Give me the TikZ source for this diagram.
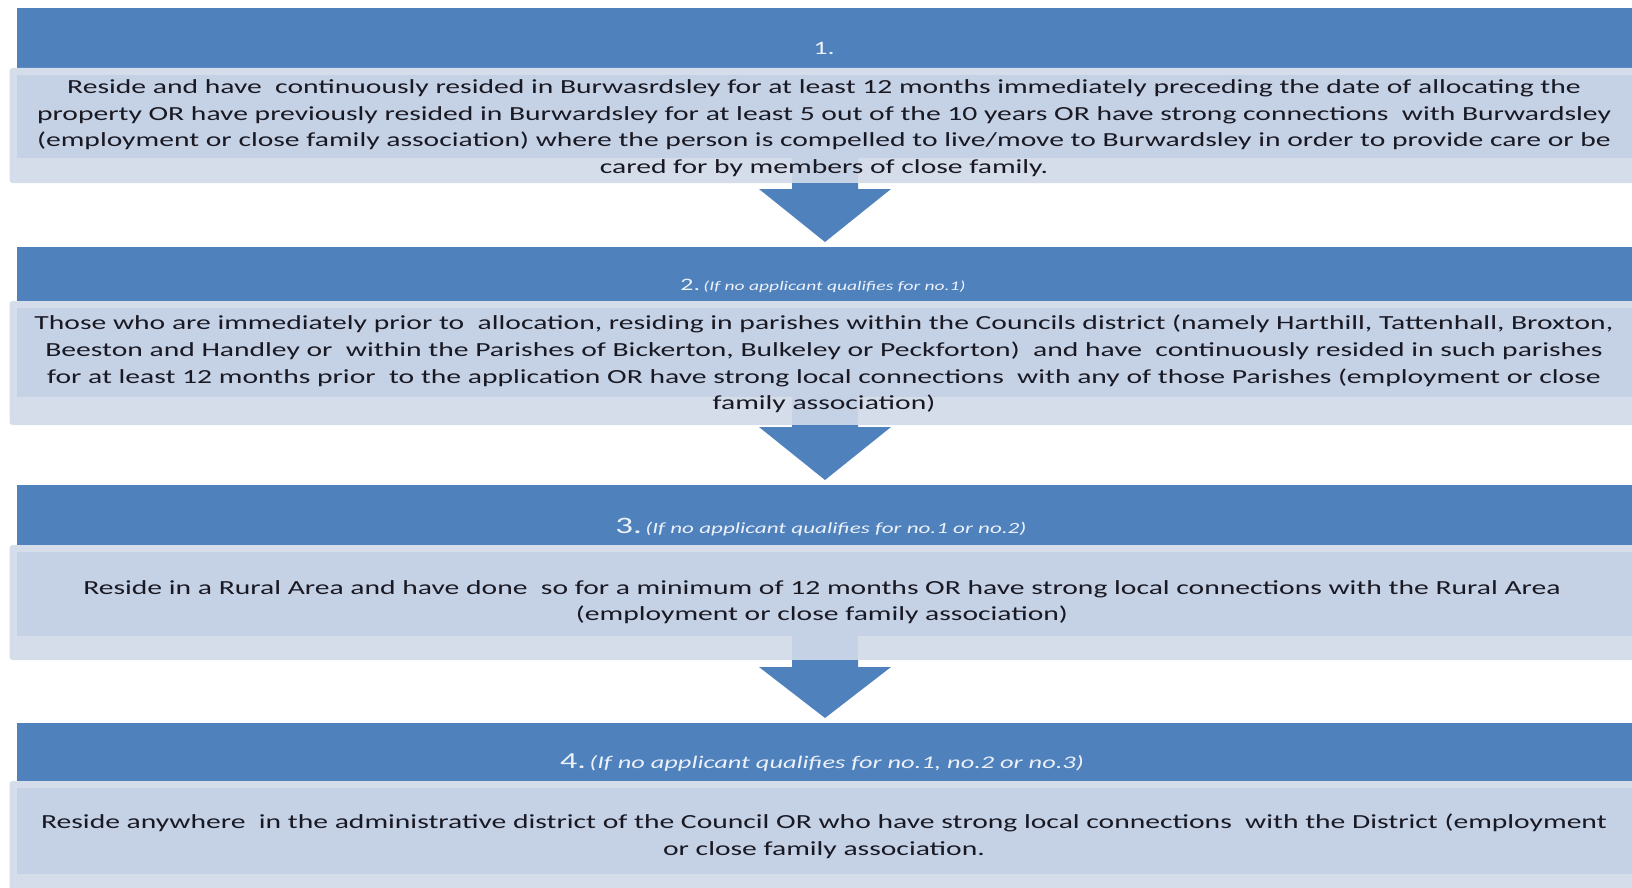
\documentclass[tikz,border=0pt]{standalone}
\usepackage{fontspec}
\setmainfont{Carlito}[FakeStretch=1.48]
\usetikzlibrary{fit,calc}
\definecolor{hdrblue}{RGB}{79,129,189}
\definecolor{boxtop}{RGB}{197,209,229}
\definecolor{boxband}{RGB}{213,220,234}
\definecolor{bodyink}{RGB}{25,25,35}
\definecolor{hdrink}{RGB}{236,241,248}
\tikzset{
  hdrbox/.style={fill=hdrblue, inner sep=0, outer sep=0},
  bodybox/.style={fill=boxband, rounded corners=1.5pt, inner sep=0, outer sep=0},
  topbox/.style={fill=boxtop, inner sep=0, outer sep=0},
  bodytext/.style={text=bodyink, align=center, inner sep=0, font=\fontsize{10}{13.3}\selectfont},
  hdrtext/.style={text=hdrink, inner sep=0, anchor=base},
}
\newcommand{\hdrnum}[2]{{\fontsize{#1}{#1}\selectfont #2}}
\newcommand{\hdrnote}[2]{{\fontsize{#1}{#1}\selectfont\itshape #2}}
% blue arrow from the box above (#1) to the header below (#2), #3 = gap under box
\newcommand{\flowarrow}[3]{%
  \path ($(axis |- #1.south)+(0,#3)$) coordinate (hd);
  \fill[boxtop] ($(axis |- top#1.south)+(-33,0)$) rectangle ($(axis |- #1.south)+(33,0)$);
  \fill[hdrblue] ($(axis |- #1.south)+(-33,0)$) -- ($(hd)+(-33,0)$) -- ($(hd)+(-66,0)$)
    -- ($(axis |- #2.north)+(0,-5)$) -- ($(hd)+(66,0)$) -- ($(hd)+(33,0)$)
    -- ($(axis |- #1.south)+(33,0)$) -- cycle;
}
\begin{document}
\begin{tikzpicture}[x=0.5pt, y=-0.5pt]
  \useasboundingbox (0,0) rectangle (1632,888);
  \coordinate (axis) at (825,0);
  \foreach \i/\hy/\ty/\sy/\by in {1/8/68/158/183, 2/247/301/397/425, 3/485/545/636/660, 4/723/781/874/905} {
    \node[hdrbox, fit={(17,\hy) (1640,\ty)}] (hdr\i) {};
    \node[bodybox, fit={(9.5,\ty) (1645,\by)}] (body\i) {};
    \node[topbox, fit={(17,\ty+7) (1645,\sy)}] (topbody\i) {};
  }
  \flowarrow{body1}{hdr2}{6}
  \flowarrow{body2}{hdr3}{2}
  \flowarrow{body3}{hdr4}{7}

  \node[hdrtext] (lab1) at (824,55) {\hdrnum{9.5}{1.}};
  \node[hdrtext] (lab2) at (823,290) {\hdrnum{8.75}{2.}\,\hdrnote{6.6}{(If no applicant qualifies for no.1)}};
  \node[hdrtext] (lab3) at (821,533) {\hdrnum{11.8}{3.}\,\hdrnote{7.8}{(If no applicant qualifies for no.1 or no.2)}};
  \node[hdrtext] (lab4) at (822,768) {\hdrnum{11.5}{4.}\,\hdrnote{8.9}{(If no applicant qualifies for no.1, no.2 or no.3)}};

  \node[bodytext] (txt1) at (824,128) {Reside and have\ \ continuously resided in Burwasrdsley for at least 12 months immediately preceding the date of allocating the\\
    property OR have previously resided in Burwardsley for at least 5 out of the 10 years OR have strong connections\ \ with Burwardsley\\
    (employment or close family association) where the person is compelled to live/move to Burwardsley in order to provide care or be\\
    cared for by members of close family.};
  \node[bodytext] (txt2) at (824,364) {Those who are immediately prior to\ \ allocation, residing in parishes within the Councils district (namely Harthill, Tattenhall, Broxton,\\
    Beeston and Handley or\ \ within the Parishes of Bickerton, Bulkeley or Peckforton)\ \ and have\ \ continuously resided in such parishes\\
    for at least 12 months prior\ \ to the application OR have strong local connections\ \ with any of those Parishes (employment or close\\
    family association)};
  \node[bodytext] (txt3) at (822,602) {Reside in a Rural Area and have done\ \ so for a minimum of 12 months OR have strong local connections with the Rural Area\\
    (employment or close family association)};
  \node[bodytext] (txt4) at (824,836) {Reside anywhere\ \ in the administrative district of the Council OR who have strong local connections\ \ with the District (employment\\
    or close family association.};
\end{tikzpicture}
\end{document}
